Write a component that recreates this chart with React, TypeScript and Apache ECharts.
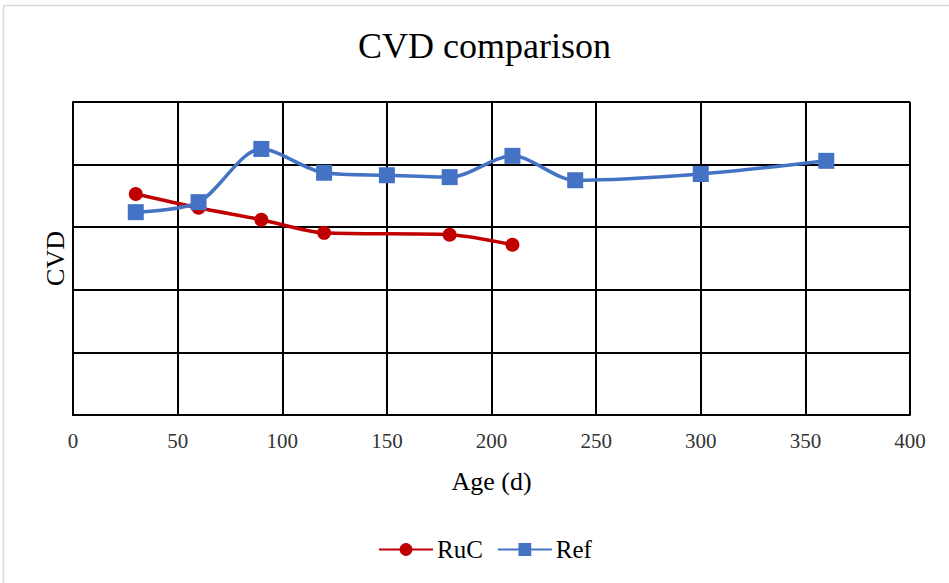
import React, { useEffect, useRef } from "react";
import * as echarts from "echarts";

const ageRuC = [30, 60, 90, 120, 180, 210];
const cvdRuC = [3.53, 3.31, 3.12, 2.91, 2.88, 2.72];
const ageRef = [30, 60, 90, 120, 150, 180, 210, 240, 300, 360];
const cvdRef = [3.24, 3.4, 4.25, 3.87, 3.83, 3.8, 4.14, 3.75, 3.85, 4.06];
const xTicks = [0, 50, 100, 150, 200, 250, 300, 350, 400];

const FONT = "'Liberation Serif', 'Times New Roman', serif";

export default function App() {
  const ref = useRef<HTMLDivElement>(null);
  useEffect(() => {
    document.body.style.margin = "0";
    const chart = echarts.init(ref.current!, null, { renderer: "svg" });
    chart.setOption({
      animation: false,
      backgroundColor: "#ffffff",
      title: {
        text: "CVD comparison",
        left: 353,
        top: 23,
        textStyle: { fontFamily: FONT, fontSize: 36, fontWeight: "normal", color: "#000" },
      },
      graphic: [
        {
          type: "rect",
          shape: { x: 3.5, y: 5.5, width: 960, height: 600 },
          style: { fill: "none", stroke: "#d9d9d9", lineWidth: 1.5 },
          silent: true,
        },
      ],
      legend: {
        bottom: 16,
        left: 373,
        itemWidth: 54,
        itemHeight: 16,
        itemGap: 14,
        textStyle: { fontFamily: FONT, fontSize: 25, color: "#000", padding: [0, 0, 0, -1] },
        data: ["RuC", "Ref"],
      },
      grid: { left: 73, right: 39, top: 102, bottom: 168 },
      xAxis: {
        type: "value",
        min: xTicks[0],
        max: xTicks[xTicks.length - 1],
        interval: 50,
        name: "Age (d)",
        nameLocation: "middle",
        nameGap: 53,
        nameTextStyle: { fontFamily: FONT, fontSize: 26, color: "#000" },
        axisLine: { show: true, lineStyle: { color: "#000", width: 2 } },
        axisTick: { show: false },
        axisLabel: { fontFamily: FONT, fontSize: 21, color: "#333", margin: 15 },
        splitLine: { show: true, lineStyle: { color: "#000", width: 2 } },
      },
      yAxis: {
        type: "value",
        min: 0,
        max: 5,
        interval: 1,
        name: "CVD",
        nameLocation: "middle",
        nameGap: 5,
        nameTextStyle: { fontFamily: FONT, fontSize: 26, color: "#000" },
        axisLine: { show: true, lineStyle: { color: "#000", width: 2 } },
        axisTick: { show: false },
        axisLabel: { show: false },
        splitLine: { show: true, lineStyle: { color: "#000", width: 2 } },
      },
      series: [
        {
          name: "RuC",
          type: "line",
          data: ageRuC.map((a, i) => [a, cvdRuC[i]]),
          smooth: 0.3,
          symbol: "circle",
          symbolSize: 14,
          itemStyle: { color: "#C00000" },
          lineStyle: { color: "#C00000", width: 3.5 },
          z: 3,
        },
        {
          name: "Ref",
          type: "line",
          data: ageRef.map((a, i) => [a, cvdRef[i]]),
          smooth: 0.3,
          symbol: "rect",
          symbolSize: 16,
          itemStyle: { color: "#4472C4" },
          lineStyle: { color: "#4472C4", width: 3.5 },
          z: 4,
        },
      ],
    });
    return () => chart.dispose();
  }, []);
  return <div ref={ref} style={{ width: 949, height: 583 }} />;
}
